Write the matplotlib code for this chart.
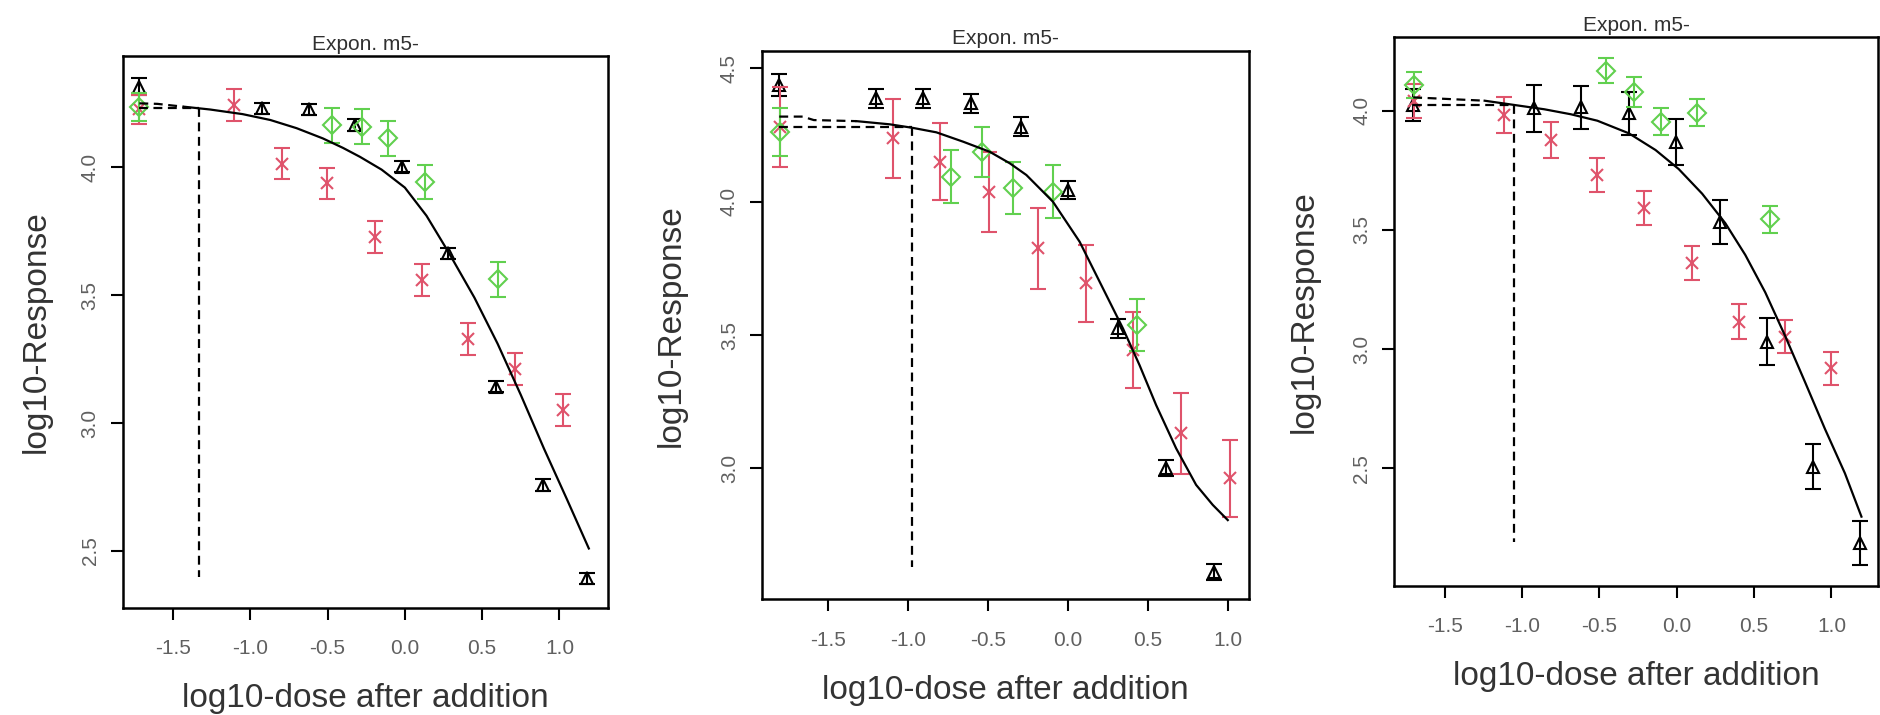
import numpy as np
import matplotlib
matplotlib.use("Agg")
import matplotlib.pyplot as plt

plt.rcParams["font.family"] = ["Liberation Sans", "DejaVu Sans"]
plt.rcParams["axes.unicode_minus"] = False

RED = "#DF536B"
GREEN = "#61D04F"

# ---- panel 1 ----
p1_tri_x = [-1.717, -0.926, -0.618, -0.322, -0.02, 0.281, 0.59, 0.892, 1.18]
p1_tri_y = [4.314, 4.229, 4.225, 4.164, 4.001, 3.663, 3.142, 2.758, 2.393]
p1_tri_err = [0.033, 0.022, 0.022, 0.022, 0.022, 0.022, 0.022, 0.022, 0.022]
p1_crs_x = [-1.72, -1.103, -0.796, -0.505, -0.193, 0.109, 0.411, 0.713, 1.025]
p1_crs_y = [4.225, 4.242, 4.014, 3.936, 3.728, 3.559, 3.327, 3.21, 3.051]
p1_crs_err = [0.055, 0.062, 0.062, 0.062, 0.062, 0.062, 0.062, 0.062, 0.062]
p1_dia_x = [-1.72, -0.473, -0.279, -0.107, 0.131, 0.605]
p1_dia_y = [4.236, 4.164, 4.157, 4.112, 3.943, 3.561]
p1_dia_err = [0.055, 0.068, 0.068, 0.068, 0.067, 0.068]
p1_fit_x = [-1.43, -1.26, -1.05, -0.87, -0.70, -0.53, -0.40, -0.29, -0.15, 0.0,
            0.14, 0.28, 0.45, 0.60, 0.75, 0.90, 1.05, 1.19]
p1_fit_y = [4.236, 4.225, 4.207, 4.184, 4.152, 4.112, 4.075, 4.04, 3.99, 3.92,
            3.81, 3.67, 3.49, 3.31, 3.11, 2.90, 2.70, 2.51]
p1_ext_x = [-1.717, -1.60, -1.433]
p1_ext_y = [4.249, 4.247, 4.236]
p1_bmd = (-1.329, 4.229, 2.40)  # log10 BMD, response level, foot of line

# ---- panel 2 ----
p2_tri_x = [-1.806, -1.202, -0.906, -0.604, -0.291, 0.0, 0.312, 0.611, 0.917]
p2_tri_y = [4.437, 4.387, 4.387, 4.369, 4.281, 4.044, 3.525, 3.0, 2.612]
p2_tri_err = [0.04, 0.035, 0.035, 0.035, 0.035, 0.035, 0.035, 0.03, 0.03]
p2_crs_x = [-1.8, -1.094, -0.802, -0.494, -0.188, 0.111, 0.406, 0.709, 1.011]
p2_crs_y = [4.281, 4.237, 4.15, 4.037, 3.825, 3.694, 3.444, 3.131, 2.963]
p2_crs_err = [0.15, 0.147, 0.144, 0.15, 0.153, 0.144, 0.144, 0.153, 0.144]
p2_dia_x = [-1.8, -0.729, -0.535, -0.344, -0.094, 0.434]
p2_dia_y = [4.262, 4.094, 4.187, 4.05, 4.037, 3.537]
p2_dia_err = [0.09, 0.1, 0.094, 0.097, 0.1, 0.097]
p2_fit_x = [-1.323, -1.114, -0.973, -0.823, -0.656, -0.489, -0.364, -0.26, -0.094,
            0.073, 0.219, 0.344, 0.448, 0.552, 0.677, 0.802, 0.906, 1.0]
p2_fit_y = [4.302, 4.29, 4.277, 4.26, 4.225, 4.187, 4.144, 4.1, 4.0,
            3.85, 3.675, 3.525, 3.387, 3.237, 3.075, 2.938, 2.863, 2.806]
p2_ext_x = [-1.806, -1.66, -1.59, -1.323]
p2_ext_y = [4.319, 4.319, 4.306, 4.302]
p2_bmd = (-0.973, 4.281, 2.631)

# ---- panel 3 ----
p3_tri_x = [-1.704, -0.92, -0.62, -0.309, -0.008, 0.282, 0.582, 0.883, 1.187]
p3_tri_y = [4.024, 4.01, 4.014, 3.99, 3.87, 3.534, 3.031, 2.507, 2.185]
p3_tri_err = [0.066, 0.098, 0.091, 0.09, 0.096, 0.092, 0.098, 0.096, 0.092]
p3_crs_x = [-1.70, -1.114, -0.813, -0.513, -0.212, 0.099, 0.4, 0.7, 1.0]
p3_crs_y = [4.04, 3.982, 3.877, 3.73, 3.591, 3.36, 3.115, 3.052, 2.919]
p3_crs_err = [0.07, 0.074, 0.075, 0.072, 0.072, 0.071, 0.072, 0.07, 0.07]
p3_dia_x = [-1.70, -0.459, -0.277, -0.105, 0.131, 0.604]
p3_dia_y = [4.108, 4.168, 4.08, 3.954, 3.992, 3.544]
p3_dia_err = [0.056, 0.052, 0.063, 0.056, 0.056, 0.058]
p3_fit_x = [-1.242, -1.049, -0.856, -0.684, -0.513, -0.309, -0.137, 0.013, 0.164,
            0.314, 0.443, 0.572, 0.7, 0.829, 0.958, 1.087, 1.194]
p3_fit_y = [4.042, 4.024, 4.006, 3.985, 3.958, 3.905, 3.835, 3.755, 3.652,
            3.528, 3.395, 3.238, 3.056, 2.862, 2.665, 2.479, 2.297]
p3_ext_x = [-1.704, -1.242]
p3_ext_y = [4.056, 4.042]
p3_bmd = (-1.049, 4.024, 2.192)

x_ticks = [-1.5, -1.0, -0.5, 0.0, 0.5, 1.0]
title = "Expon. m5-"
x_label = "log10-dose after addition"
y_label = "log10-Response"

W, H = 1881, 715
fig = plt.figure(figsize=(W / 100, H / 100), dpi=100)


def add_box(left, right, top, bottom):
    return fig.add_axes([left / W, 1 - bottom / H, (right - left) / W, (bottom - top) / H])


def draw_panel(ax, box, series, fit, ext, bmd, xlim, ylim, yticks, ylab_off=90):
    left, right, top, bottom = box
    bw, bh = right - left, bottom - top
    (tx, ty, te), (cx, cy, ce), (dx, dy, de) = series

    ax.errorbar(tx, ty, yerr=te, fmt="none", ecolor="black", elinewidth=1.5,
                capsize=5.5, capthick=1.5)
    ax.plot(tx, ty, ls="none", marker="^", ms=9, mfc="none", mec="black", mew=1.5)
    ax.errorbar(cx, cy, yerr=ce, fmt="none", ecolor=RED, elinewidth=1.5,
                capsize=5.5, capthick=1.5)
    ax.plot(cx, cy, ls="none", marker="x", ms=8, mec=RED, mew=1.5)
    ax.errorbar(dx, dy, yerr=de, fmt="none", ecolor=GREEN, elinewidth=1.5,
                capsize=5.5, capthick=1.5)
    ax.plot(dx, dy, ls="none", marker="D", ms=9, mfc="none", mec=GREEN, mew=1.5)

    ax.plot(fit[0], fit[1], color="black", lw=1.6)
    ax.plot(ext[0], ext[1], color="black", lw=1.6, dashes=(4, 2.5))
    bx, by, bfoot = bmd
    ax.plot([tx[0], bx], [by, by], color="black", lw=1.6, dashes=(4, 2.5))
    ax.plot([bx, bx], [by, bfoot], color="black", lw=1.6, dashes=(4, 2.5))

    ax.set_xlim(*xlim)
    ax.set_ylim(*ylim)
    ax.set_xticks(x_ticks)
    ax.set_xticklabels([f"{v:.1f}" for v in x_ticks])
    ax.set_yticks(yticks)
    ax.set_yticklabels([f"{v:.1f}" for v in yticks], rotation=90, va="center")
    for s in ax.spines.values():
        s.set_linewidth(1.8)
    ax.tick_params(axis="both", direction="out", length=8.5, width=1.5,
                   labelsize=15, labelcolor="#606060")
    ax.tick_params(axis="x", pad=14)
    ax.tick_params(axis="y", pad=8)

    ax.text(0.5, 1 + 12 / bh, title, transform=ax.transAxes, ha="center",
            va="center", fontsize=15, color="#303030")
    ax.set_xlabel(x_label, fontsize=24, color="#333333", va="center")
    ax.xaxis.set_label_coords(0.5, -91 / bh)
    ax.set_ylabel(y_label, fontsize=24, color="#333333", va="center")
    ax.yaxis.set_label_coords(-ylab_off / bw, 0.5)


boxes = [(122.5, 608, 56, 607.6), (761.7, 1249.5, 51, 599.3), (1394, 1878, 37.3, 586)]

ax1 = add_box(*boxes[0])
draw_panel(ax1, boxes[0],
           [(p1_tri_x, p1_tri_y, p1_tri_err), (p1_crs_x, p1_crs_y, p1_crs_err),
            (p1_dia_x, p1_dia_y, p1_dia_err)],
           (p1_fit_x, p1_fit_y), (p1_ext_x, p1_ext_y), p1_bmd,
           (-1.826, 1.314), (2.279, 4.434), [2.5, 3.0, 3.5, 4.0], ylab_off=86)

ax2 = add_box(*boxes[1])
draw_panel(ax2, boxes[1],
           [(p2_tri_x, p2_tri_y, p2_tri_err), (p2_crs_x, p2_crs_y, p2_crs_err),
            (p2_dia_x, p2_dia_y, p2_dia_err)],
           (p2_fit_x, p2_fit_y), (p2_ext_x, p2_ext_y), p2_bmd,
           (-1.916, 1.136), (2.509, 4.565), [3.0, 3.5, 4.0, 4.5])

ax3 = add_box(*boxes[2])
draw_panel(ax3, boxes[2],
           [(p3_tri_x, p3_tri_y, p3_tri_err), (p3_crs_x, p3_crs_y, p3_crs_err),
            (p3_dia_x, p3_dia_y, p3_dia_err)],
           (p3_fit_x, p3_fit_y), (p3_ext_x, p3_ext_y), p3_bmd,
           (-1.828, 1.301), (2.006, 4.308), [2.5, 3.0, 3.5, 4.0])

fig.savefig("out.png", dpi=100)
